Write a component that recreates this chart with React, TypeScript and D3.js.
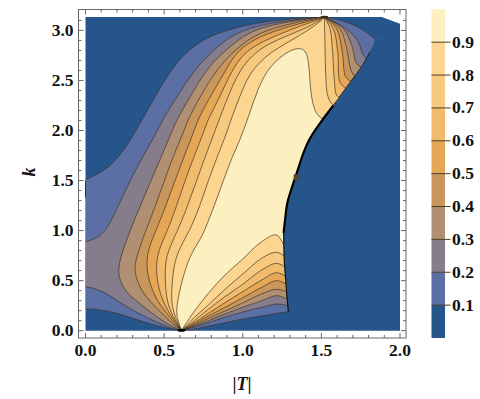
import * as d3 from "d3";

type Pt = [number, number];

const pinch: Pt = [0.61, 0];
const peak: Pt = [1.519, 3.134];

// blue background outline, with the cut corner top right
const backdrop: Pt[] = [[0, 0], [0, 3.135], [1.884, 3.135], [2, 3.067], [2, 0]];

// right hand limit of the coloured area, top to bottom
const edge: Pt[] = [
  [1.841, 2.911], [1.83, 2.854], [1.809, 2.787], [1.756, 2.637], [1.693, 2.504], [1.608, 2.32],
  [1.576, 2.25], [1.491, 2.072], [1.428, 1.922], [1.385, 1.772], [1.353, 1.622], [1.311, 1.423],
  [1.283, 1.273], [1.269, 1.106], [1.26, 0.976], [1.264, 0.706], [1.273, 0.507], [1.279, 0.377], [1.29, 0.19],
];

// contours on the left, running up to the peak
const left10: Pt[] = [[0, 1.51], [0.092, 1.572], [0.177, 1.672], [0.262, 1.838], [0.347, 2.072], [0.431, 2.305], [0.516, 2.537], [0.601, 2.721], [0.707, 2.871], [0.834, 2.971], [0.983, 3.04], [1.141, 3.087], [1.269, 3.11], [1.396, 3.127], peak];
const left20: Pt[] = [[0, 0.889], [0.06, 0.913], [0.135, 0.999], [0.209, 1.25], [0.283, 1.5], [0.368, 1.75], [0.459, 2.0], [0.489, 2.105], [0.569, 2.305], [0.696, 2.621], [0.824, 2.818], [0.93, 2.951], [1.078, 3.044], [1.247, 3.091], [1.502, 3.137], peak];
const left30: Pt[] = [pinch, [0.49, 0.09], [0.347, 0.27], [0.272, 0.36], [0.225, 0.47], [0.205, 0.6], [0.226, 0.75], [0.283, 1.0], [0.349, 1.25], [0.417, 1.5], [0.485, 1.75], [0.552, 2.0], [0.58, 2.105], [0.654, 2.305], [0.771, 2.621], [0.887, 2.8], [1.035, 2.984], [1.184, 3.057], [1.353, 3.101], [1.502, 3.134], peak];
const left40: Pt[] = [pinch, [0.527, 0.107], [0.442, 0.24], [0.368, 0.37], [0.326, 0.5], [0.31, 0.62], [0.326, 0.75], [0.383, 1.0], [0.446, 1.25], [0.502, 1.5], [0.559, 1.75], [0.629, 2.0], [0.65, 2.105], [0.718, 2.305], [0.834, 2.621], [0.993, 2.87], [1.12, 2.984], [1.269, 3.057], [1.502, 3.131], peak];
const left50: Pt[] = [pinch, [0.527, 0.15], [0.453, 0.3], [0.399, 0.5], [0.38, 0.75], [0.448, 1.0], [0.512, 1.25], [0.569, 1.5], [0.629, 1.75], [0.692, 2.0], [0.714, 2.105], [0.781, 2.305], [0.887, 2.59], [0.951, 2.768], [1.057, 2.901], [1.184, 2.984], [1.332, 3.057], [1.502, 3.124], peak];
const left60: Pt[] = [pinch, [0.542, 0.15], [0.488, 0.3], [0.453, 0.5], [0.446, 0.75], [0.523, 1.0], [0.58, 1.25], [0.633, 1.5], [0.692, 1.75], [0.756, 2.0], [0.777, 2.105], [0.845, 2.305], [0.93, 2.601], [1.004, 2.768], [1.099, 2.868], [1.226, 2.958], [1.375, 3.051], [1.502, 3.117], peak];
const left70: Pt[] = [pinch, [0.552, 0.15], [0.516, 0.3], [0.506, 0.5], [0.506, 0.75], [0.588, 1.0], [0.65, 1.25], [0.707, 1.5], [0.764, 1.75], [0.824, 2.0], [0.849, 2.105], [0.93, 2.435], [0.983, 2.601], [1.057, 2.751], [1.163, 2.868], [1.29, 2.951], [1.417, 3.034], [1.502, 3.111], peak];
const left80: Pt[] = [pinch, [0.565, 0.15], [0.544, 0.3], [0.552, 0.5], [0.569, 0.75], [0.665, 1.0], [0.728, 1.25], [0.781, 1.5], [0.841, 1.75], [0.904, 2.0], [0.923, 2.105], [1.004, 2.435], [1.057, 2.601], [1.163, 2.768], [1.29, 2.884], [1.417, 3.001], [1.502, 3.101], peak];
const left90: Pt[] = [pinch, [0.578, 0.15], [0.58, 0.25], [0.612, 0.5], [0.665, 0.757], [0.728, 0.906], [0.757, 1.0], [0.82, 1.25], [0.877, 1.5], [0.936, 1.75], [0.975, 1.875], [1.04, 2.15], [1.095, 2.42], [1.173, 2.654], [1.3, 2.81], [1.383, 2.83], [1.417, 2.75], [1.428, 2.474], [1.438, 2.305], [1.47, 2.138], [1.53, 2.105]];

// the two lower left contours that reach the T = 0 side
const lowLeft10: Pt[] = [[0, 0.217], [0.083, 0.214], [0.209, 0.174], [0.316, 0.114], [0.422, 0.064], [0.527, 0.02], pinch];
const lowLeft20: Pt[] = [[0, 0.44], [0.103, 0.407], [0.209, 0.29], [0.316, 0.19], [0.422, 0.107], [0.527, 0.034], pinch];

// fan of contours right of the pinch: k read at these T columns
const fanT = [0.675, 0.781, 0.887, 0.993, 1.12, 1.216, 1.285];
const fan10 = [0.012, 0.047, 0.08, 0.114, 0.147, 0.173, 0.19];
const fan20 = [0.03, 0.08, 0.134, 0.184, 0.233, 0.267, 0.25];
const fan30 = [0.037, 0.1, 0.167, 0.23, 0.3, 0.35, 0.315];
const fan40 = [0.044, 0.123, 0.197, 0.273, 0.367, 0.413, 0.385];
const fan50 = [0.054, 0.147, 0.233, 0.323, 0.433, 0.5, 0.46];
const fan60 = [0.064, 0.173, 0.28, 0.383, 0.506, 0.58, 0.53];
const fan70 = [0.08, 0.213, 0.34, 0.456, 0.606, 0.673, 0.62];
const fan80 = [0.107, 0.257, 0.413, 0.556, 0.723, 0.783, 0.72];
const fan90 = [0.157, 0.373, 0.556, 0.706, 0.889, 0.956, 0.76];

// contours falling from the peak to the edge
const drop10: Pt[] = [peak, [1.629, 3.097], [1.735, 3.031], [1.809, 2.954], [1.841, 2.911]];
const drop20: Pt[] = [peak, [1.671, 3.001], [1.735, 2.884], [1.767, 2.751], [1.8, 2.7]];
const drop30: Pt[] = [peak, [1.64, 3.017], [1.693, 2.851], [1.725, 2.667], [1.77, 2.62]];
const drop40: Pt[] = [peak, [1.618, 3.017], [1.661, 2.817], [1.688, 2.602], [1.72, 2.52]];
const drop50: Pt[] = [peak, [1.597, 3.017], [1.633, 2.784], [1.655, 2.534], [1.69, 2.49]];
const drop60: Pt[] = [peak, [1.576, 3.017], [1.604, 2.784], [1.618, 2.484], [1.655, 2.42]];
const drop70: Pt[] = [peak, [1.555, 3.017], [1.57, 2.817], [1.582, 2.518], [1.597, 2.352], [1.62, 2.33]];
const drop80: Pt[] = [peak, [1.523, 2.851], [1.527, 2.584], [1.54, 2.352], [1.566, 2.268], [1.6, 2.25]];

const levels = [0.1, 0.2, 0.3, 0.4, 0.5, 0.6, 0.7, 0.8, 0.9];
const bandColors = ["#26558c", "#5b6fa5", "#857d8c", "#b08f72", "#c9975c", "#e5a655", "#f0bb6c", "#f6c97f", "#fcd590", "#fdf0c0"];
const leftLines = [left10, left20, left30, left40, left50, left60, left70, left80, left90];
const fans = [fan10, fan20, fan30, fan40, fan50, fan60, fan70, fan80, fan90];
const drops = [drop10, drop20, drop30, drop40, drop50, drop60, drop70, drop80, []];
const lowLefts = [lowLeft10, lowLeft20];

const xTicks = [0, 0.5, 1, 1.5, 2];
const yTicks = [0, 0.5, 1, 1.5, 2, 2.5, 3];

const font = "'Liberation Serif', serif";
const x = d3.scaleLinear().domain([0, 2]).range([85.5, 400]);
const y = d3.scaleLinear().domain([0, 3]).range([330.7, 30.4]);
const bar = d3.scaleLinear().domain([0, 1]).range([338, 9.3]);

const straight = d3.line<Pt>().x((d) => x(d[0])).y((d) => y(d[1]));
const smooth = d3.line<Pt>().x((d) => x(d[0])).y((d) => y(d[1])).curve(d3.curveCatmullRom.alpha(0.5));
// the long left contours were read by eye, a basis curve irons out the reading noise
const soft = d3.line<Pt>().x((d) => x(d[0])).y((d) => y(d[1])).curve(d3.curveBasis);

// pieces of a closed outline, each with its own curve so corners stay sharp
const outline = (pieces: [Pt[], typeof smooth][]) =>
  pieces
    .filter(([p]) => p.length)
    .map(([p, gen], i) => {
      const d = gen(p) as string;
      return i ? d.replace(/^M/, "L") : d;
    })
    .join("") + "Z";

const fanLine = (k: number[]): Pt[] => [pinch, ...fanT.map((t, i) => [t, k[i]] as Pt)];

const regions = levels.map((_, i) => {
  const low = fanLine(fans[i]);
  const up = drops[i].length ? drops[i] : [leftLines[i][leftLines[i].length - 1]];
  const kLow = low[low.length - 1][1];
  const kUp = up[up.length - 1][1];
  return outline([
    [lowLefts[i] ?? [], soft],
    [low, smooth],
    [[[2, kLow], [2, kUp]], straight],
    [drops[i].slice().reverse(), smooth],
    [leftLines[i].slice().reverse(), soft],
  ]);
});

const clipOutline = outline([
  [[[1.29, 0], [0, 0], [0, 3.135], [1.9, 3.135], [1.9, 2.911]], straight],
  [edge, smooth],
]);

function Frame() {
  const xMinor = d3.range(0, 21).map((d) => d / 10);
  const yMinor = d3.range(0, 32).map((d) => d / 10);
  const isMajor = (v: number) => Math.abs(v * 2 - Math.round(v * 2)) < 1e-6;
  const c = "#666";
  return (
    <g stroke={c} strokeWidth={1} fill="none">
      <rect x={78.5} y={9.5} width={327.5} height={328.5} />
      {xMinor.map((v) => {
        const len = isMajor(v) ? 5 : 3;
        return (
          <g key={v}>
            <line x1={x(v)} x2={x(v)} y1={338} y2={338 - len} />
            <line x1={x(v)} x2={x(v)} y1={9.5} y2={9.5 + len} />
          </g>
        );
      })}
      {yMinor.map((v) => {
        const len = isMajor(v) ? 5 : 3;
        return (
          <g key={v}>
            <line x1={78.5} x2={78.5 + len} y1={y(v)} y2={y(v)} />
            <line x1={406} x2={406 - len} y1={y(v)} y2={y(v)} />
          </g>
        );
      })}
    </g>
  );
}

export default function App() {
  return (
    <svg width={480} height={399} style={{ position: "absolute", left: 0, top: 0, background: "#fff" }}>
      <defs>
        <clipPath id="area">
          <path d={clipOutline} />
        </clipPath>
      </defs>

      <path d={straight(backdrop) + "Z"} fill={bandColors[0]} />
      <g clipPath="url(#area)">
        {regions.map((d, i) => (
          <path key={i} d={d} fill={bandColors[i + 1]} />
        ))}
        <g fill="none" stroke="#3d3122" strokeWidth={0.8} strokeOpacity={0.85}>
          {leftLines.map((l, i) => <path key={i} d={soft(l) as string} />)}
          {lowLefts.map((l, i) => <path key={i} d={soft(l) as string} />)}
          {fans.map((k, i) => <path key={i} d={smooth(fanLine(k)) as string} />)}
          {drops.map((l, i) => (l.length ? <path key={i} d={smooth(l) as string} /> : null))}
        </g>
      </g>

      {/* dark rim along the edge, heavy in the middle */}
      <path d={smooth(edge.slice(6, 15)) as string} fill="none" stroke="#000" strokeWidth={2.2} />
      <path d={smooth(edge.slice(14)) as string} fill="none" stroke="#111" strokeWidth={1.2} />
      <path d={smooth(edge.slice(2, 7)) as string} fill="none" stroke="#222" strokeWidth={1} />
      <rect x={x(1.343) - 3} y={y(1.532) - 3} width={6} height={6} fill="#4f483c" />
      <ellipse cx={x(pinch[0])} cy={y(pinch[1]) - 0.5} rx={4} ry={1.5} fill="#000" />
      <ellipse cx={x(peak[0])} cy={y(peak[1])} rx={4} ry={1.3} fill="#3a2c18" />
      <line x1={x(0)} x2={x(0)} y1={y(1.5)} y2={y(1.33)} stroke="#333" strokeWidth={1} />

      <Frame />

      <g fontFamily={font} fontWeight="bold" fontSize={17.5} fill="#111">
        {xTicks.map((t) => (
          <text key={t} x={x(t)} y={356} textAnchor="middle">{t.toFixed(1)}</text>
        ))}
        {yTicks.map((t) => (
          <text key={t} x={73.5} y={y(t) + 5.5} textAnchor="end">{t.toFixed(1)}</text>
        ))}
        <text x={242} y={390} textAnchor="middle" fontSize={18}>
          |<tspan fontStyle="italic">T</tspan>|
        </text>
        <text transform="translate(35,172) rotate(-90)" textAnchor="middle" fontSize={18} fontStyle="italic">k</text>
      </g>

      {bandColors.map((c, i) => (
        <rect key={c} x={431.5} width={13.5} y={bar(i === 9 ? 1 : levels[i])} height={bar(i ? levels[i - 1] : 0) - bar(i === 9 ? 1 : levels[i])} fill={c} />
      ))}
      {levels.map((t) => (
        <g key={t}>
          <line x1={431.5} x2={450.5} y1={bar(t)} y2={bar(t)} stroke="#4a3c28" strokeWidth={1} />
          <text x={452} y={bar(t) + 5.5} fontFamily={font} fontWeight="bold" fontSize={17.5} fill="#111">{t.toFixed(1)}</text>
        </g>
      ))}
    </svg>
  );
}
